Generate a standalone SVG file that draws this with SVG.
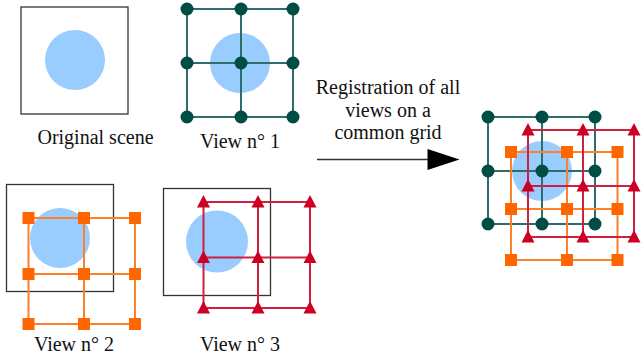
<svg xmlns="http://www.w3.org/2000/svg" width="641" height="358" viewBox="0 0 641 358">
<style>
.frame{fill:none;stroke:#333;stroke-width:1.3}
.disk{fill:#99ccff}
.tl{fill:none;stroke:#2d6e6a;stroke-width:2}
.td{fill:#004d45}
.ol{fill:none;stroke:#ff7f2a;stroke-width:2}
.os{fill:#ff6600}
.rl{fill:none;stroke:#d0203f;stroke-width:2}
.rt{fill:#cc0022}
.lbl{font-family:"Liberation Serif","Times New Roman",serif;font-size:20px;fill:#111;text-anchor:middle}
</style>
<defs>
<circle id="dot" r="6.5" class="td"/>
<rect id="sq" x="-6" y="-6" width="12" height="12" class="os"/>
<path id="tri" d="M0,-7 L6.5,5.5 L-6.5,5.5 Z" class="rt"/>
</defs>

<g id="original-scene">
<rect class="frame" x="21" y="7" width="107" height="107"/>
<circle class="disk" cx="75" cy="60" r="30"/>
<text class="lbl" x="95.5" y="144">Original scene</text>
</g>

<g id="view1">
<circle class="disk" cx="240" cy="63" r="30"/>
<path class="tl" d="M187,9H293M187,63H293M187,117H293M187,9V117M241,9V117M293,9V117"/>
<use href="#dot" x="187" y="9"/><use href="#dot" x="241" y="9"/><use href="#dot" x="293" y="9"/>
<use href="#dot" x="187" y="63"/><use href="#dot" x="241" y="63"/><use href="#dot" x="293" y="63"/>
<use href="#dot" x="187" y="117"/><use href="#dot" x="241" y="117"/><use href="#dot" x="293" y="117"/>
<text class="lbl" x="240" y="148">View n° 1</text>
</g>

<g id="view2">
<rect class="frame" x="6.5" y="184.5" width="107" height="107"/>
<circle class="disk" cx="60" cy="238" r="30"/>
<path class="ol" d="M28.5,218H84M28.5,274H135M28.5,324H135M84,218H135M28.5,218V324M84,218V324M135,218V324"/>
<use href="#sq" x="28.5" y="218"/><use href="#sq" x="84" y="218"/><use href="#sq" x="135" y="218"/>
<use href="#sq" x="28.5" y="274"/><use href="#sq" x="84" y="274"/><use href="#sq" x="135" y="274"/>
<use href="#sq" x="28.5" y="324"/><use href="#sq" x="84" y="324"/><use href="#sq" x="135" y="324"/>
<text class="lbl" x="74" y="350.5">View n° 2</text>
</g>

<g id="view3">
<rect class="frame" x="163.5" y="188.5" width="107" height="107"/>
<circle class="disk" cx="217" cy="241.5" r="31"/>
<path class="rl" d="M203.5,202H310M203.5,257.5H310M203.5,308H310M203.5,202V308M258,202V308M310,202V308"/>
<use href="#tri" x="203.5" y="202"/><use href="#tri" x="258" y="202"/><use href="#tri" x="310" y="202"/>
<use href="#tri" x="203.5" y="257.5"/><use href="#tri" x="258" y="257.5"/><use href="#tri" x="310" y="257.5"/>
<use href="#tri" x="203.5" y="308"/><use href="#tri" x="258" y="308"/><use href="#tri" x="310" y="308"/>
<text class="lbl" x="240" y="350.5">View n° 3</text>
</g>

<g id="registration-label">
<text class="lbl" x="388" y="94">Registration of all</text>
<text class="lbl" x="388" y="116.5">views on a</text>
<text class="lbl" x="388" y="138.5">common grid</text>
</g>

<g id="connectors">
<line x1="317" y1="159.5" x2="429" y2="159.5" stroke="#333" stroke-width="1.5"/>
<path d="M427.5,149 L459.5,159.5 L427.5,170 Z" fill="#000"/>
</g>

<g id="common-grid">
<circle class="disk" cx="542" cy="171" r="30"/>
<path class="tl" d="M488,117H595M488,171H595M488,224H595M488,117V224M542,117V224M595,117V224"/>
<path class="ol" d="M511,152H617.5M511,209H617.5M511,260H617.5M511,152V260M567,152V260M617.5,152V260"/>
<path class="rl" d="M528,130H634M528,186H634M528,237H634M528,130V237M583,130V237M634,130V237"/>
<use href="#dot" x="488" y="117"/><use href="#dot" x="542" y="117"/><use href="#dot" x="595" y="117"/>
<use href="#dot" x="488" y="171"/><use href="#dot" x="542" y="171"/><use href="#dot" x="595" y="171"/>
<use href="#dot" x="488" y="224"/><use href="#dot" x="542" y="224"/><use href="#dot" x="595" y="224"/>
<use href="#sq" x="511" y="152"/><use href="#sq" x="567" y="152"/><use href="#sq" x="617.5" y="152"/>
<use href="#sq" x="511" y="209"/><use href="#sq" x="567" y="209"/><use href="#sq" x="617.5" y="209"/>
<use href="#sq" x="511" y="260"/><use href="#sq" x="567" y="260"/><use href="#sq" x="617.5" y="260"/>
<use href="#tri" x="528" y="130"/><use href="#tri" x="583" y="130"/><use href="#tri" x="634" y="130"/>
<use href="#tri" x="528" y="186"/><use href="#tri" x="583" y="186"/><use href="#tri" x="634" y="186"/>
<use href="#tri" x="528" y="237"/><use href="#tri" x="583" y="237"/><use href="#tri" x="634" y="237"/>
</g>
</svg>
